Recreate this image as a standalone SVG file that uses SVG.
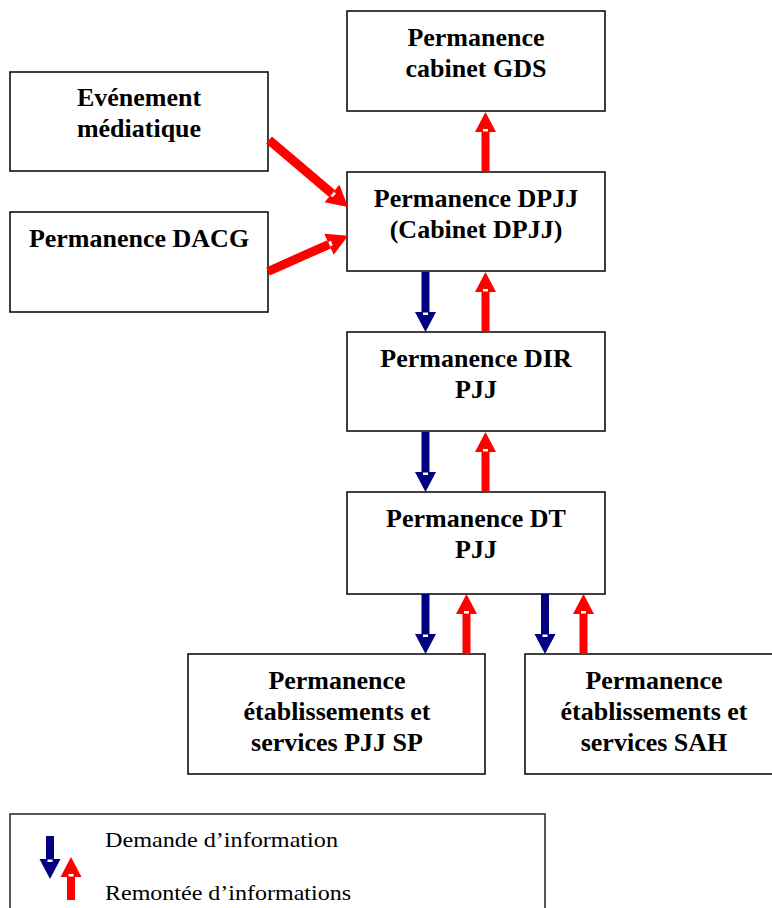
<svg xmlns="http://www.w3.org/2000/svg" width="772" height="908" viewBox="0 0 772 908">
<style>
.box{fill:#fff;stroke:#000;stroke-width:1.5}
.t{font-family:"Liberation Serif","Times New Roman",serif;font-weight:bold;font-size:26px;text-anchor:middle;fill:#000}
.lg{font-family:"Liberation Serif","Times New Roman",serif;font-size:21px;fill:#000}
.blue{stroke:#000080;stroke-width:8;fill:none}
.red{stroke:#ff0000;stroke-width:8;fill:none}
.redd{stroke:#ff0000;stroke-width:9;fill:none}
</style>
<defs>
<marker id="hb" markerUnits="userSpaceOnUse" markerWidth="21" markerHeight="22" refX="0" refY="10.5" orient="auto" overflow="visible">
<path d="M0,0 L20,10.5 L0,21 Z" fill="#000080"/>
<rect x="0.5" y="8" width="2.5" height="5" fill="#fff"/>
</marker>
<marker id="hr" markerUnits="userSpaceOnUse" markerWidth="21" markerHeight="22" refX="0" refY="10.5" orient="auto" overflow="visible">
<path d="M0,0 L20,10.5 L0,21 Z" fill="#ff0000"/>
<rect x="0.5" y="8" width="2.5" height="5" fill="#fff"/>
</marker>
<marker id="hrd" markerUnits="userSpaceOnUse" markerWidth="21" markerHeight="24" refX="0" refY="11.5" orient="auto" overflow="visible">
<path d="M0,0 L21,11.5 L0,23 Z" fill="#ff0000"/>
<rect x="0.5" y="9" width="2.5" height="5" fill="#fff"/>
</marker>
</defs>

<g id="gds">
<rect class="box" x="347" y="11" width="258" height="100"/>
<text class="t" x="476" y="46">Permanence</text>
<text class="t" x="476" y="77">cabinet GDS</text>
</g>
<g id="evenement">
<rect class="box" x="10" y="72" width="258" height="99"/>
<text class="t" x="139" y="106">Evénement</text>
<text class="t" x="139" y="137">médiatique</text>
</g>
<g id="dacg">
<rect class="box" x="10" y="212" width="258" height="100"/>
<text class="t" x="139" y="247">Permanence DACG</text>
</g>
<g id="dpjj">
<rect class="box" x="347" y="172" width="258" height="99"/>
<text class="t" x="476" y="207">Permanence DPJJ</text>
<text class="t" x="476" y="238">(Cabinet DPJJ)</text>
</g>
<g id="dir">
<rect class="box" x="347" y="332" width="258" height="99"/>
<text class="t" x="476" y="367">Permanence DIR</text>
<text class="t" x="476" y="398">PJJ</text>
</g>
<g id="dt">
<rect class="box" x="347" y="492" width="258" height="102"/>
<text class="t" x="476" y="527">Permanence DT</text>
<text class="t" x="476" y="558">PJJ</text>
</g>
<g id="sp">
<rect class="box" x="188" y="654" width="297" height="120"/>
<text class="t" x="337" y="689">Permanence</text>
<text class="t" x="337" y="720">établissements et</text>
<text class="t" x="337" y="751">services PJJ SP</text>
</g>
<g id="sah">
<rect class="box" x="525" y="654" width="258" height="120"/>
<text class="t" x="654" y="689">Permanence</text>
<text class="t" x="654" y="720">établissements et</text>
<text class="t" x="654" y="751">services SAH</text>
</g>

<g id="connectors">
<line class="red" x1="485.5" y1="172" x2="485.5" y2="132" marker-end="url(#hr)"/>
<line class="blue" x1="425.5" y1="272" x2="425.5" y2="312" marker-end="url(#hb)"/>
<line class="red" x1="485.5" y1="332" x2="485.5" y2="292" marker-end="url(#hr)"/>
<line class="blue" x1="425.5" y1="432" x2="425.5" y2="472" marker-end="url(#hb)"/>
<line class="red" x1="485.5" y1="492" x2="485.5" y2="452" marker-end="url(#hr)"/>
<line class="blue" x1="425.5" y1="594" x2="425.5" y2="634" marker-end="url(#hb)"/>
<line class="red" x1="466.5" y1="654" x2="466.5" y2="614" marker-end="url(#hr)"/>
<line class="blue" x1="545" y1="594" x2="545" y2="634" marker-end="url(#hb)"/>
<line class="red" x1="583.5" y1="654" x2="583.5" y2="614" marker-end="url(#hr)"/>
<line class="redd" x1="269" y1="140" x2="332" y2="193.5" marker-end="url(#hrd)"/>
<line class="redd" x1="268" y1="271.5" x2="329" y2="244.3" marker-end="url(#hrd)"/>
</g>

<g id="legend">
<rect x="10" y="814" width="535" height="110" fill="#fff" stroke="#222" stroke-width="1.5"/>
<line class="blue" x1="50" y1="836" x2="50" y2="859" marker-end="url(#hb)"/>
<line class="red" x1="71" y1="900" x2="71" y2="877" marker-end="url(#hr)"/>
<text class="lg" x="105" y="847" textLength="233" lengthAdjust="spacingAndGlyphs">Demande d’information</text>
<text class="lg" x="105" y="900" textLength="246" lengthAdjust="spacingAndGlyphs">Remontée d’informations</text>
</g>
</svg>
